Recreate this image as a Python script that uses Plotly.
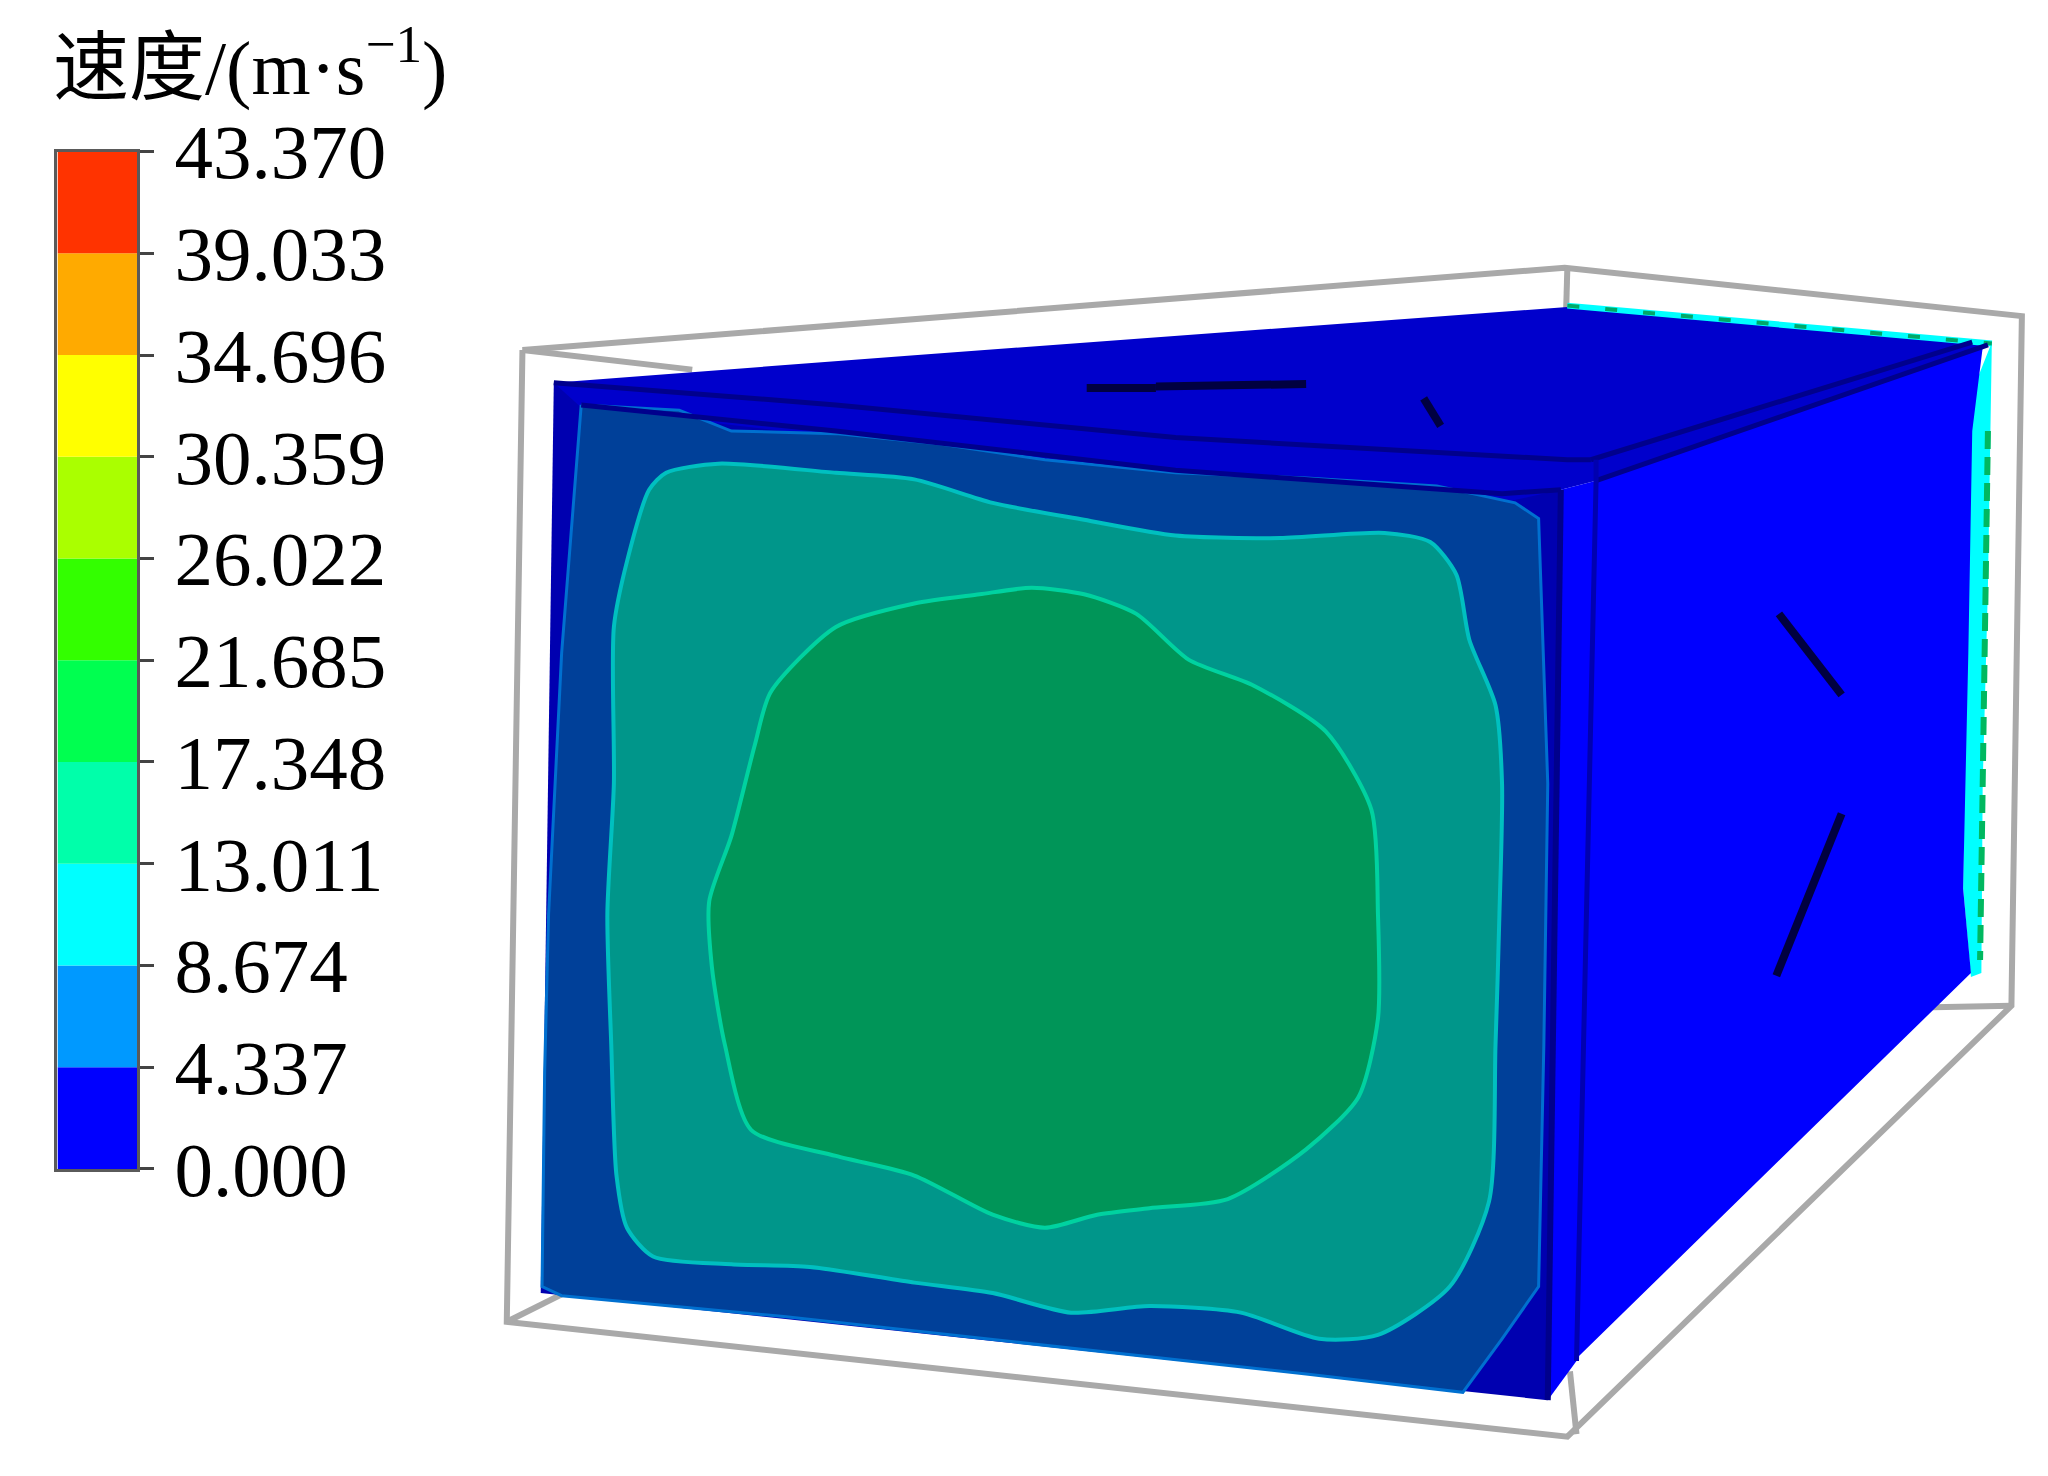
import plotly.graph_objects as go

# Colour scale
level_ticks = [0.000, 4.337, 8.674, 13.011, 17.348, 21.685, 26.022, 30.359, 34.696, 39.033, 43.370]
level_labels = ["0.000", "4.337", "8.674", "13.011", "17.348", "21.685", "26.022", "30.359", "34.696", "39.033", "43.370"]
level_colors = ["#0000ff", "#0099ff", "#00ffff", "#00ffaa", "#00ff50", "#33ff00", "#aaff00", "#ffff00", "#ffaa00", "#ff3300"]

# Outlines (shrunk-image pixel coordinates)
frame_top = [(400, 268), (1198, 205), (1548, 242), (1540, 770), (1200, 1100), (388, 1012), (400, 268)]
frame_inner = [(400, 268), (530, 283)]
frame_post = [(1200, 205), (1199, 240)]
frame_foot = [(388, 1012), (432, 990)]
frame_post2 = [(1202, 1050), (1207, 1098)]
frame_back = [(1440, 772), (1540, 770)]

top_face = [(424, 293), (700, 272), (1200, 235), (1525, 262), (1222, 368), (1195, 375)]
front_base = [(424, 293), (1195, 375), (1185, 1072), (414, 990)]
front_strip = [(424, 293), (1218, 352), (1195, 375), (1150, 385), (900, 365), (640, 335), (445, 312)]
front_side = [(1195, 375), (1222, 368), (1207, 1042), (1185, 1072)]
right_face = [(1222, 368), (1518, 266), (1510, 330), (1507, 500), (1503, 680), (1509, 745), (1205, 1042)]
right_rim = [(1525, 262), (1522, 450), (1518, 600), (1517, 745), (1509, 748), (1503, 680), (1505, 500), (1510, 300)]
rim_green = [(1522, 330), (1520, 450), (1518, 600), (1516, 735)]
top_rim = [(1200, 234), (1300, 243), (1400, 252), (1525, 263)]

band_low = [(445, 310), (520, 314), (560, 330), (640, 332), (720, 340), (800, 352), (900, 362), (1000, 366),
            (1100, 372), (1160, 385), (1178, 397), (1185, 600), (1182, 800), (1180, 900), (1178, 985), (1150, 1025), (1120, 1066),
            (1000, 1052), (800, 1030), (600, 1008), (430, 992), (415, 985), (417, 820), (420, 700), (430, 500)]
band_mid = [(497, 375), (510, 362), (550, 355), (640, 362), (700, 367), (760, 385), (830, 398), (900, 410), (980, 412),
            (1060, 408), (1095, 415), (1115, 440), (1125, 490), (1145, 540), (1150, 600), (1148, 700), (1145, 800), (1140, 920),
            (1110, 985), (1055, 1022), (1010, 1025), (950, 1005), (880, 1000), (820, 1005), (760, 990), (700, 982), (620, 970),
            (560, 968), (500, 962), (480, 940), (472, 900), (468, 800), (465, 700), (470, 600), (470, 480), (480, 430)]
band_high = [(790, 450), (830, 455), (870, 470), (910, 505), (960, 525), (1015, 560), (1050, 620), (1055, 700), (1055, 780),
             (1040, 840), (1000, 880), (940, 918), (880, 925), (840, 930), (800, 940), (760, 930), (700, 900), (640, 885),
             (575, 865), (555, 800), (545, 740), (543, 690), (560, 640), (578, 570), (590, 530), (640, 480), (700, 462), (750, 455)]

edge_a = [(424, 293), (640, 310), (900, 335), (1200, 352), (1218, 352)]
edge_b = [(445, 310), (640, 330), (900, 360), (1150, 378), (1195, 375)]
edge_c = [(1218, 352), (1510, 262)]
edge_d = [(1222, 368), (1522, 264)]
edge_e = [(1222, 352), (1222, 368), (1207, 1042)]
edge_f = [(1195, 375), (1185, 1072)]

strokes = [
    [(832, 297), (885, 297)],
    [(885, 296), (1000, 294)],
    [(1090, 305), (1103, 326)],
    [(1362, 470), (1410, 532)],
    [(1410, 623), (1360, 747)],
]


def xs(points):
    return [p[0] for p in points]


def ys(points):
    return [p[1] for p in points]


fig = go.Figure()


def line(points, color, width, dash=None):
    fig.add_trace(go.Scatter(x=xs(points), y=ys(points), mode="lines", showlegend=False, hoverinfo="skip",
                             line=dict(color=color, width=width, dash=dash)))


def patch(points, fill, edge=None, width=0, smooth=False):
    closed = points + [points[0]]
    style = dict(color=edge or fill, width=width)
    if smooth:
        style.update(shape="spline", smoothing=0.7)
    fig.add_trace(go.Scatter(x=xs(closed), y=ys(closed), mode="lines", fill="toself", fillcolor=fill,
                             showlegend=False, hoverinfo="skip", line=style))


GRAY = "#a9a9a9"
for piece in (frame_top, frame_inner, frame_post, frame_foot, frame_post2, frame_back):
    line(piece, GRAY, 6)

patch(top_face, "#0000cc")
patch(front_base, "#0000b0")
patch(front_strip, "#0000cc")
patch(band_low, "#004099", "#0070d0", 3)
patch(band_mid, "#00968a", "#00c0c0", 4, True)
patch(band_high, "#009558", "#00d2a0", 4, True)
patch(right_rim, "#00ffff")
line(rim_green, "#00b860", 6, "18px,8px")
patch(front_side, "#0000ff")
patch(right_face, "#0000ff")
line(top_rim, "#00ffff", 6)
line(top_rim, "#00a868", 4, "12px,26px")
line(edge_a, "#00008c", 5)
line(edge_b, "#00008c", 5)
line(edge_c, "#00008c", 5)
line(edge_d, "#00008c", 5)
line(edge_e, "#0000b0", 5)
line(edge_f, "#00008c", 6)
for stroke in strokes:
    line(stroke, "#000040", 8)

# Colour bar: one bar per level interval, on its own value axis
bases = level_ticks[:-1]
heights = [b - a for a, b in zip(level_ticks[:-1], level_ticks[1:])]
fig.add_trace(go.Bar(x=[0.5] * len(bases), y=heights, base=bases, width=1, marker=dict(color=level_colors, line=dict(width=0)),
                     xaxis="x2", yaxis="y2", showlegend=False, hoverinfo="skip"))

# The page has an 8 px body margin: the plot area is 2032x1460 and the ranges compensate for it
W, H = 1568, 1130
S = 2048 / W
X0, X1 = 8 / S, (8 + 2032) / S
Y0, Y1 = 8 / S, (8 + 1460) / S


def fx(v):
    return (v - X0) / (X1 - X0)


def fy(v):
    return 1 - (v - Y0) / (Y1 - Y0)


fig.update_layout(
    width=2032, height=1460, margin=dict(l=0, r=0, t=0, b=0, autoexpand=False), template="none",
    paper_bgcolor="white", plot_bgcolor="rgba(0,0,0,0)", barmode="overlay",
    xaxis=dict(range=[X0, X1], domain=[0, 1], visible=False, fixedrange=True, automargin=False),
    yaxis=dict(range=[Y1, Y0], domain=[0, 1], visible=False, fixedrange=True, automargin=False),
    xaxis2=dict(range=[0, 1], domain=[fx(44), fx(105)], anchor="y2", showticklabels=False, ticks="", automargin=False,
                showgrid=False, zeroline=False, showline=True, mirror=True, linecolor="#5a5a5a", linewidth=3, fixedrange=True),
    yaxis2=dict(range=[0, 43.370], domain=[fy(895), fy(116)], anchor="x2", side="right", automargin=False,
                tickmode="array", tickvals=level_ticks, ticktext=level_labels, ticks="outside", ticklen=14, tickwidth=3,
                tickcolor="#444444", ticklabelstandoff=5, showgrid=False, zeroline=False, showline=True, mirror=True,
                linecolor="#5a5a5a", linewidth=3, fixedrange=True,
                tickfont=dict(family="Liberation Serif", size=77, color="black")),
    annotations=[dict(text="速度/(m·s<sup>−1</sup>)", x=39, y=48, xref="x", yref="y", xanchor="left", yanchor="middle",
                      showarrow=False, font=dict(family="Liberation Serif, Noto Sans CJK SC", size=76, color="black"))],
)
fig.write_html("out.html")
